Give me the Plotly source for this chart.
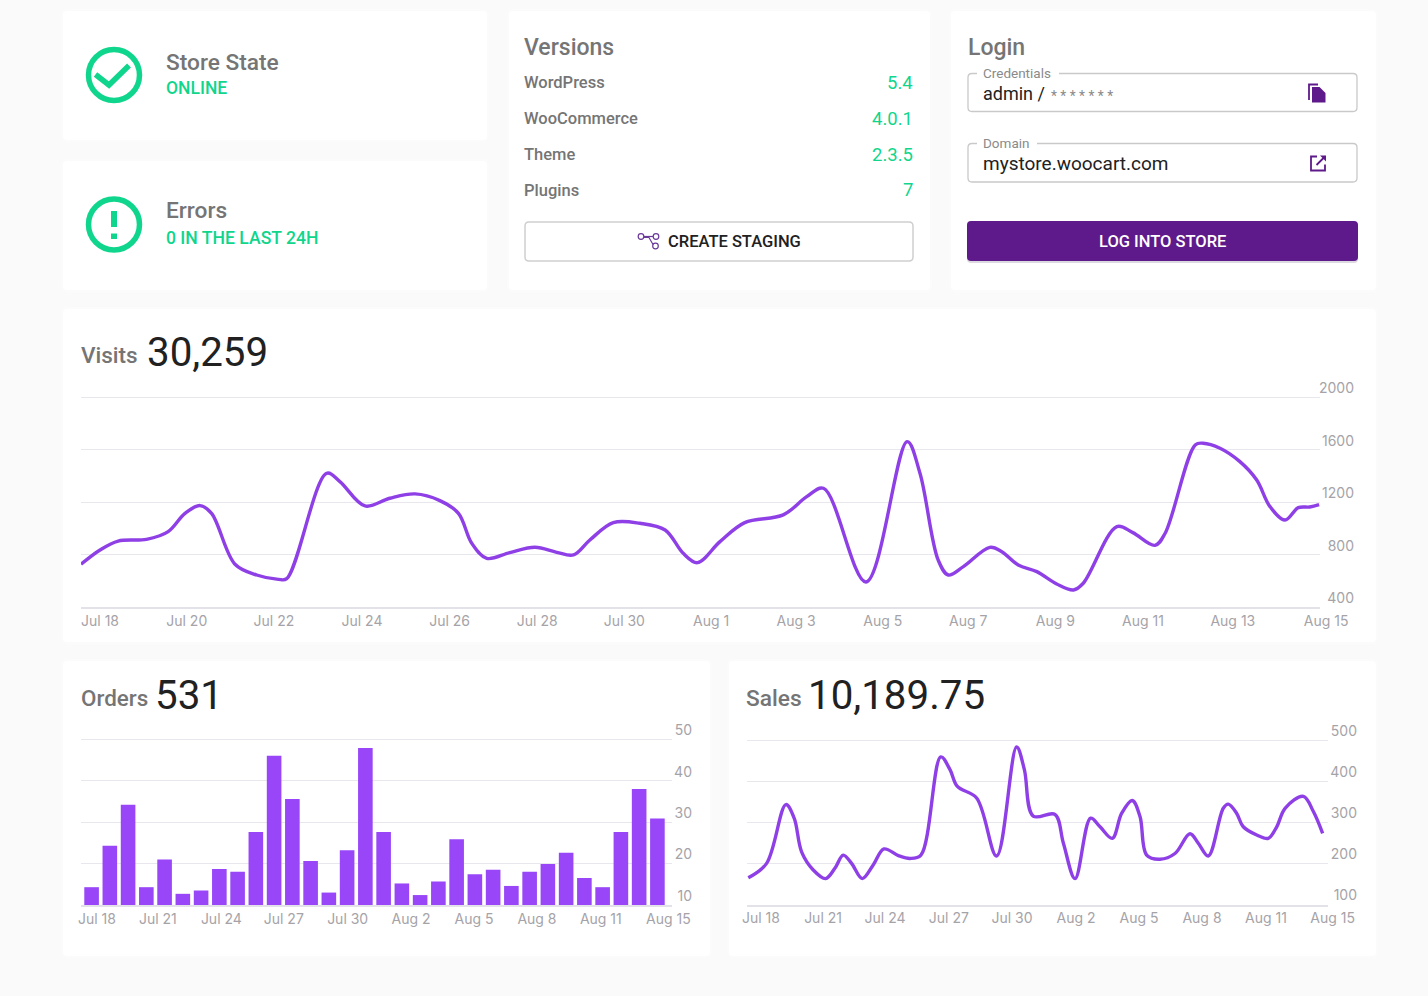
import plotly.graph_objects as pgo

# page size, everything outside the charts is placed in pixels
W, H = 1428, 996

visits_total = "30,259"
orders_total = "531"
sales_total = "10,189.75"

version_names = ["WordPress", "WooCommerce", "Theme", "Plugins"]
version_values = ["5.4", "4.0.1", "2.3.5", "7"]

visits_days = [0.0, 0.43, 0.84, 1.48, 1.97, 2.35, 2.69, 2.95, 3.48, 3.97, 4.46, 4.65, 5.55, 5.85, 6.42,
               6.98, 7.55, 8.11, 8.53, 8.83, 9.17, 9.69, 10.26, 10.75, 11.13, 11.5, 12.03, 12.63, 13.2, 13.61,
               13.93, 14.44, 15.0, 15.87, 16.4, 16.78, 17.74, 18.67, 18.96,
               19.37, 19.6, 19.94, 20.54, 20.81, 21.18, 21.6, 22.05, 22.43, 22.65, 23.41, 23.77, 24.27,
               24.5, 25.18, 25.36, 25.74, 26.19, 26.57, 26.87, 27.21, 27.51, 27.77, 27.98]
visits_values = [728, 837, 905, 918, 977, 1116, 1175, 1116, 728, 646, 613, 618, 1421, 1358, 1172,
                 1231, 1264, 1213, 1116, 888, 773, 817, 857, 819, 799, 913, 1045, 1040, 989, 811,
                 740, 900, 1045, 1104, 1243, 1307, 593, 1662, 1421,
                 761, 646, 710, 857, 824, 723, 672, 578, 532, 583, 1015, 969, 872,
                 964, 1637, 1650, 1612, 1510, 1370, 1167, 1065, 1159, 1164, 1182]
visits_ticks = ["Jul 18", "Jul 20", "Jul 22", "Jul 24", "Jul 26", "Jul 28", "Jul 30", "Aug 1",
                "Aug 3", "Aug 5", "Aug 7", "Aug 9", "Aug 11", "Aug 13", "Aug 15"]
visits_tick_days = [0.43, 2.39, 4.36, 6.35, 8.33, 10.31, 12.28, 14.24, 16.16, 18.12, 20.05, 22.02, 24.0, 26.03, 28.14]

orders_values = [14.3, 24.3, 34.2, 14.3, 21, 12.7, 13.5, 18.7, 18, 27.6, 46, 35.6, 20.6, 13, 23.2, 47.9,
                 27.6, 15.2, 12.4, 15.7, 25.9, 17.4, 18.5, 14.6, 18, 19.9, 22.6, 16.5, 14.3, 27.6, 38, 30.9]
orders_days = list(range(len(orders_values)))
orders_ticks = ["Jul 18", "Jul 21", "Jul 24", "Jul 27", "Jul 30", "Aug 2", "Aug 5", "Aug 8", "Aug 11", "Aug 15"]
orders_tick_days = [0.29, 3.63, 7.11, 10.53, 14.03, 17.5, 20.95, 24.4, 27.9, 31.6]

sales_days = [0.02, 1.01, 2.05, 2.5, 2.9, 3.53, 4.2, 4.7, 5.15, 5.6, 6.18, 6.77, 7.35, 8.13, 8.76, 9.35,
              10.42, 10.92, 11.32, 12.36, 13.44, 14.52, 14.94, 15.42, 16.59,
              17.05, 17.68, 18.52, 19.03, 19.69, 20.2, 20.77, 21.19, 21.55, 22.27, 23.08, 23.89, 24.34,
              24.88, 25.69, 25.96, 26.41, 26.77, 27.5, 28.12, 28.58, 29.03, 30.02, 30.56, 31.06]
sales_values = [165, 200, 343, 310, 228, 184, 163, 188, 220, 200, 163, 196, 235, 219, 212, 220,
                459, 428, 387, 359, 218, 483, 428, 315, 319,
                249, 163, 310, 289, 261, 322, 353, 314, 220, 210, 224, 272, 249,
                218, 334, 344, 322, 289, 269, 261, 289, 334, 363, 326, 273]
sales_ticks = orders_ticks
sales_tick_days = [0.7, 4.06, 7.41, 10.86, 14.27, 17.73, 21.14, 24.54, 28.0, 31.6]

GREEN = "#0fd68c"
GREY = "#757575"
DARK = "#212121"
PURPLE = "#5e1a8a"
LINE = "#8e3fe6"
BAR = "#9846f7"
GRID = "#e9e7ee"
TICK = "#a5a3a8"


def px(x):
    return x / W


def py(y):
    return 1 - y / H


def rounded(x0, y0, x1, y1, r=4):
    # rounded rectangle as an svg path in paper coordinates
    pts = [("M", x0 + r, y0), ("L", x1 - r, y0), ("Q", x1, y0, x1, y0 + r), ("L", x1, y1 - r),
           ("Q", x1, y1, x1 - r, y1), ("L", x0 + r, y1), ("Q", x0, y1, x0, y1 - r), ("L", x0, y0 + r),
           ("Q", x0, y0, x0 + r, y0)]
    return poly_path(pts) + " Z"


def poly_path(pts):
    out = []
    for p in pts:
        coords = [f"{px(p[i]):.5f},{py(p[i + 1]):.5f}" for i in range(1, len(p), 2)]
        out.append(p[0] + " ".join(coords))
    return " ".join(out)


def line_path(*points, close=False):
    pts = [("M" if i == 0 else "L", p[0], p[1]) for i, p in enumerate(points)]
    return poly_path(pts) + (" Z" if close else "")


shapes = []
annotations = []


def add_path(path, fill="rgba(0,0,0,0)", color="rgba(0,0,0,0)", width=0, layer="below"):
    shapes.append(dict(type="path", xref="paper", yref="paper", path=path, fillcolor=fill,
                       line=dict(color=color, width=width), layer=layer))


def add_circle(cx, cy, r, fill="rgba(0,0,0,0)", color="rgba(0,0,0,0)", width=0):
    shapes.append(dict(type="circle", xref="paper", yref="paper", x0=px(cx - r), x1=px(cx + r),
                       y0=py(cy + r), y1=py(cy - r), fillcolor=fill,
                       line=dict(color=color, width=width), layer="above"))


def add_text(x, y, text, size, color=GREY, weight=400, anchor="left", family="Roboto"):
    annotations.append(dict(xref="paper", yref="paper", x=px(x), y=py(y), text=text, showarrow=False,
                            xanchor=anchor, yanchor="middle", borderpad=0, borderwidth=0,
                            font=dict(family=family, size=size, color=color, weight=weight)))


# cards
for box in [(62, 10, 488, 141), (62, 160, 488, 291), (508, 10, 931, 291), (950, 10, 1377, 291),
            (62, 308, 1377, 643), (62, 660, 711, 957), (728, 660, 1377, 957)]:
    add_path(rounded(*box, r=5), fill="#ffffff", color="#fbfbfc", width=2)

# store state / errors
add_circle(114, 75, 25.5, color=GREEN, width=5.5)
add_path(line_path((95.5, 74.5), (109, 85), (129, 65.5)), color=GREEN, width=5.5, layer="above")
add_text(166, 62, "Store State", 22.7, weight=500)
add_text(166, 88, "ONLINE", 17.5, GREEN, 500)
add_circle(114, 224.5, 25.5, color=GREEN, width=5.5)
add_path(line_path((111, 211), (117, 211), (117, 227), (111, 227), close=True), fill=GREEN, layer="above")
add_path(line_path((111, 233.5), (117, 233.5), (117, 239), (111, 239), close=True), fill=GREEN, layer="above")
add_text(166, 211, "Errors", 22.7, weight=500)
add_text(166, 238, "0 IN THE LAST 24H", 17.6, GREEN, 500)

# versions
add_text(524, 47, "Versions", 23, weight=500)
for i, (name, value) in enumerate(zip(version_names, version_values)):
    add_text(524, 82 + 36 * i, name, 16.5, weight=500)
    add_text(913, 82.5 + 36 * i, value, 18.5, GREEN, anchor="right")
add_path(rounded(525, 222, 913, 261), color="#cfcfcf", width=1.5)
add_text(668, 241.5, "CREATE STAGING", 16.5, DARK, 500)
for c in [(641, 236.5), (656, 236.5), (655.5, 246)]:
    add_circle(c[0], c[1], 2.8, color="#6a3a9a", width=1.2)
add_path(line_path((644, 236.5), (653, 236.5)), color="#6a3a9a", width=1.2, layer="above")
add_path(line_path((644, 237.5), (649, 237.5), (653, 244.5)), color="#6a3a9a", width=1.2, layer="above")

# login
add_text(968, 47, "Login", 23, weight=500)
add_path(rounded(968, 73.5, 1357, 111.5), color="#c9c9c9", width=1.3)
add_path(line_path((977, 70), (1059, 70), (1059, 77), (977, 77), close=True), fill="#ffffff")
add_text(983, 73, "Credentials", 13.5, "#8a8a8a")
add_text(983, 94, "admin /", 18, DARK)
add_text(1051, 96, "* * * * * * *", 13.8, "#8a8a8a")
add_path(rounded(968, 143.5, 1357, 182), color="#c9c9c9", width=1.3)
add_path(line_path((977, 140), (1037, 140), (1037, 147), (977, 147), close=True), fill="#ffffff")
add_text(983, 143, "Domain", 13.5, "#8a8a8a")
add_text(983, 163.5, "mystore.woocart.com", 19, DARK)
# copy icon
add_path(line_path((1309, 100), (1309, 84.5), (1318, 84.5)), color=PURPLE, width=1.8, layer="above")
add_path(line_path((1312, 87), (1319.5, 87), (1325.5, 93), (1325.5, 102.5), (1312, 102.5), close=True),
         fill=PURPLE, layer="above")
# open in new icon
add_path(line_path((1317, 156.5), (1311, 156.5), (1311, 170.5), (1325, 170.5), (1325, 164.5)),
         color=PURPLE, width=1.8, layer="above")
add_path(line_path((1316.5, 165), (1325, 156.5)), color=PURPLE, width=1.8, layer="above")
add_path(line_path((1320, 155.5), (1326, 155.5), (1326, 161.5), close=True), fill=PURPLE, layer="above")
# log in button
add_path(rounded(967, 223, 1358, 263), fill="#dcd9e1")
add_path(rounded(967, 221, 1358, 261), fill=PURPLE)
add_text(1162.5, 241, "LOG INTO STORE", 16.5, "#ffffff", 500, anchor="center")

# chart headings
add_text(81, 355, "Visits", 22.5, weight=500)
add_text(147, 353, visits_total, 40.3, DARK)
add_text(81, 698, "Orders", 22.4, weight=500)
add_text(155, 695, orders_total, 40.3, DARK)
add_text(746, 698, "Sales", 22.7, weight=500)
add_text(808, 695, sales_total, 40.3, DARK)


def x_axis(left, right, x_range, tickvals, ticktext, anchor):
    # last label sits past the end of the axis, so ticks go in 8px early and the labels are shifted back
    per_px = (x_range[1] - x_range[0]) / (right - left)
    return dict(domain=[px(left), px(right)], range=x_range, anchor=anchor, tickmode="array",
                tickvals=[v - 8 * per_px for v in tickvals], ticktext=ticktext, ticks="", showgrid=False,
                zeroline=False, showline=True, linecolor="#e4e2e9", linewidth=2, ticklabelstandoff=0,
                ticklabelshift=8, automargin=False,
                tickfont=dict(family="Inter", size=14, color=TICK), tickangle=0)


def y_axis(top, bottom, y_range, tickvals, label_right):
    # plotly drops a gridline sitting right on the axis end, so leave 2px of room above the top one
    per_px = (y_range[1] - y_range[0]) / (bottom - top)
    return dict(domain=[py(bottom), py(top - 2)], range=[y_range[0], y_range[1] + 2 * per_px],
                tickmode="array", tickvals=tickvals, ticktext=[str(v) for v in tickvals], side="left",
                anchor="free", position=px(label_right), ticks="", showgrid=True, gridcolor=GRID, gridwidth=1.3,
                zeroline=False, showline=False, ticklabelshift=-9, ticklabelstandoff=0, automargin=False,
                tickfont=dict(family="Inter", size=14, color=TICK))


fig = pgo.Figure()
fig.add_trace(pgo.Scatter(x=visits_days, y=visits_values, mode="lines", xaxis="x", yaxis="y",
                          line=dict(color=LINE, width=3.4, shape="spline", smoothing=1.0)))
fig.add_trace(pgo.Bar(x=orders_days, y=orders_values, xaxis="x2", yaxis="y2", marker=dict(color=BAR, line_width=0),
                      width=0.8))
fig.add_trace(pgo.Scatter(x=sales_days, y=sales_values, mode="lines", xaxis="x3", yaxis="y3",
                          line=dict(color=LINE, width=3.4, shape="spline", smoothing=1.0)))

fig.update_layout(
    width=W, height=H, margin=dict(l=0, r=0, t=0, b=0, autoexpand=False), autosize=False, showlegend=False,
    paper_bgcolor="#fafafb", plot_bgcolor="rgba(0,0,0,0)", shapes=shapes, annotations=annotations,
    xaxis=x_axis(81, 1320, [0, 28], visits_tick_days, visits_ticks, "y"),
    yaxis=y_axis(397.3, 607.3, [400, 2000], [400, 800, 1200, 1600, 2000], 1354),
    xaxis2=x_axis(81, 672, [-0.58, 31.8], orders_tick_days, orders_ticks, "y2"),
    yaxis2=y_axis(739.3, 905, [10, 50], [10, 20, 30, 40, 50], 692),
    xaxis3=x_axis(747, 1328, [-0.05, 31.35], sales_tick_days, sales_ticks, "y3"),
    yaxis3=y_axis(740, 904.5, [100, 500], [100, 200, 300, 400, 500], 1357),
)

fig.write_html("out.html", config=dict(displayModeBar=False),
               post_script="document.body.style.margin='0';document.body.style.overflow='hidden';")
